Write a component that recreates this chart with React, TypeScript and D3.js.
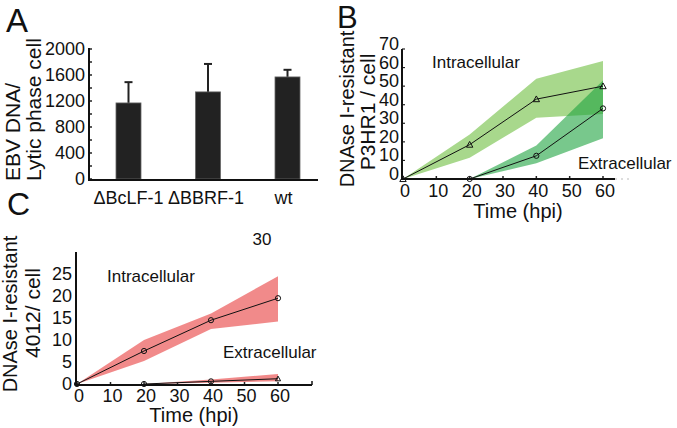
import React from "react";
import * as d3 from "d3";

// ---------- Panel A data ----------
const barCategories = ["ΔBcLF-1", "ΔBBRF-1", "wt"];
const barValues = [1170, 1340, 1570];
const barErrorTops = [1490, 1770, 1680];
const barYTicks = [0, 400, 800, 1200, 1600, 2000];
const barMinorTicks = [0, 200, 400, 600, 800, 1000, 1200, 1400, 1600, 1800, 2000];

// ---------- Panel B data ----------
const timeTicks = [0, 10, 20, 30, 40, 50, 60];
const bIntraTime = [0, 20, 40, 60];
const bIntra = [0, 18.5, 43, 50];
const bIntraUpper = [0, 24, 54, 63.5];
const bIntraLower = [0, 11.5, 33, 35];
const bExtTime = [20, 40, 60];
const bExt = [0, 12.5, 38];
const bExtUpper = [0, 18, 53];
const bExtLower = [0, 8.5, 22];
const bYTicks = [0, 10, 20, 30, 40, 50, 60, 70];

// ---------- Panel C data ----------
const cIntraTime = [0, 20, 40, 60];
const cIntra = [0, 7.5, 14.5, 19.5];
const cIntraUpper = [0, 10, 16, 24.5];
const cIntraLower = [0, 5.2, 12.5, 14.2];
const cExtTime = [20, 40, 60];
const cExt = [0, 0.6, 1.2];
const cExtUpper = [0, 1.0, 2.3];
const cExtLower = [0, 0.3, 0.6];
const cYTicks = [0, 5, 10, 15, 20, 25];

const FONT = "'Liberation Sans', Arial, sans-serif";

type Pt = { t: number; v: number; lo: number; hi: number };
const zipSeries = (t: number[], v: number[], lo: number[], hi: number[]): Pt[] =>
  t.map((tt, i) => ({ t: tt, v: v[i], lo: lo[i], hi: hi[i] }));

function Triangle({ x, y, s = 3.2 }: { x: number; y: number; s?: number }) {
  return (
    <path
      d={`M${x},${y - s}L${x + s},${y + s * 0.8}L${x - s},${y + s * 0.8}Z`}
      fill="none"
      stroke="#111"
      strokeWidth={1}
    />
  );
}
function Circle({ x, y }: { x: number; y: number }) {
  return <circle cx={x} cy={y} r={2.6} fill="none" stroke="#111" strokeWidth={1} />;
}

export default function App() {
  // ===== Panel A =====
  const aY = d3.scaleLinear().domain([0, 2000]).range([179, 49]);
  const aX = d3.scalePoint<string>().domain(barCategories).range([128.5, 287.5]);
  const barW = 25;

  // ===== Panel B =====
  const bX = d3.scaleLinear().domain([0, 60]).range([403, 603]);
  const bY = d3.scaleLinear().domain([0, 70]).range([179, 49]);
  const bIntraPts = zipSeries(bIntraTime, bIntra, bIntraLower, bIntraUpper);
  const bExtPts = zipSeries(bExtTime, bExt, bExtLower, bExtUpper);
  const bArea = d3
    .area<Pt>()
    .x((d) => bX(d.t))
    .y0((d) => bY(d.lo))
    .y1((d) => bY(d.hi));
  const bLine = d3
    .line<Pt>()
    .x((d) => bX(d.t))
    .y((d) => bY(d.v));

  // ===== Panel C =====
  const cX = d3.scaleLinear().domain([0, 60]).range([77, 278]);
  const cY = d3.scaleLinear().domain([0, 30]).range([384, 252]);
  const cIntraPts = zipSeries(cIntraTime, cIntra, cIntraLower, cIntraUpper);
  const cExtPts = zipSeries(cExtTime, cExt, cExtLower, cExtUpper);
  const cArea = d3
    .area<Pt>()
    .x((d) => cX(d.t))
    .y0((d) => cY(d.lo))
    .y1((d) => cY(d.hi));
  const cLine = d3
    .line<Pt>()
    .x((d) => cX(d.t))
    .y((d) => cY(d.v));

  return (
    <svg
      width={677}
      height={428}
      style={{ position: "absolute", left: 0, top: 0, background: "#fff" }}
      fontFamily={FONT}
    >
      <rect width={677} height={428} fill="#fff" />

      {/* ================= Panel A ================= */}
      <text x={6} y={32} fontSize={33} fill="#111">A</text>
      <text transform="translate(20,181) rotate(-90)" fontSize={21} fill="#111">EBV DNA/</text>
      <text transform="translate(41,181) rotate(-90)" fontSize={21} fill="#111">Lytic phase cell</text>
      {barCategories.map((c, i) => {
        const cx = aX(c) as number;
        return (
          <g key={c}>
            <line x1={cx} x2={cx} y1={aY(barValues[i])} y2={aY(barErrorTops[i])} stroke="#222" strokeWidth={2} />
            <line x1={cx - 4} x2={cx + 4} y1={aY(barErrorTops[i])} y2={aY(barErrorTops[i])} stroke="#222" strokeWidth={2} />
            <rect
              x={cx - barW / 2}
              y={aY(barValues[i])}
              width={barW}
              height={aY(0) - aY(barValues[i])}
              fill="#222"
              stroke="#666"
              strokeWidth={0.8}
            />
            <text x={cx - 2 * i} y={204} fontSize={18} textAnchor="middle" fill="#111">{c}</text>
          </g>
        );
      })}
      {barMinorTicks.map((t) => (
        <line key={t} x1={89} x2={92} y1={aY(t)} y2={aY(t)} stroke="#222" strokeWidth={1.5} />
      ))}
      {barYTicks.map((t) => (
        <text key={t} x={85} y={aY(t) + 6} fontSize={18} textAnchor="end" fill="#111">{t}</text>
      ))}
      <line x1={89} x2={89} y1={aY(2000) - 1} y2={180} stroke="#111" strokeWidth={2} />
      <line x1={88} x2={318} y1={180} y2={180} stroke="#111" strokeWidth={2} />

      {/* ================= Panel B ================= */}
      <text x={337} y={28} fontSize={31} fill="#111">B</text>
      <text transform="translate(354,109) rotate(-90)" fontSize={20} textAnchor="middle" fill="#111">DNAse I-resistant</text>
      <text transform="translate(375,112) rotate(-90)" fontSize={21} textAnchor="middle" fill="#111">P3HR1 / cell</text>

      <path d={bArea(bIntraPts) || ""} fill="rgb(168,216,140)" />
      <path d={bArea(bExtPts) || ""} fill="rgb(30,163,63)" fillOpacity={0.6} />
      <path d={bLine(bIntraPts) || ""} fill="none" stroke="#111" strokeWidth={1} />
      <path d={bLine(bExtPts) || ""} fill="none" stroke="#111" strokeWidth={1} />
      {bIntraPts.map((d) => (
        <Triangle key={"bi" + d.t} x={bX(d.t)} y={bY(d.v)} />
      ))}
      {bExtPts.map((d) => (
        <Circle key={"be" + d.t} x={bX(d.t)} y={bY(d.v)} />
      ))}

      {bYTicks.map((t) => (
        <g key={t}>
          <line x1={402} x2={405} y1={bY(t)} y2={bY(t)} stroke="#222" strokeWidth={1.2} />
          <text x={399} y={bY(t) + 1} fontSize={18} textAnchor="end" fill="#111">{t}</text>
        </g>
      ))}
      {timeTicks.map((t) => (
        <g key={t}>
          <line x1={bX(t)} x2={bX(t)} y1={179} y2={176} stroke="#222" strokeWidth={1.5} />
          <text x={bX(t) + 2} y={197} fontSize={18} textAnchor="middle" fill="#111">{t}</text>
        </g>
      ))}
      <line x1={402} x2={402} y1={bY(70)} y2={180} stroke="#111" strokeWidth={2} />
      <line x1={401} x2={615} y1={179} y2={179} stroke="#111" strokeWidth={2} />
      <line x1={615} x2={633} y1={179} y2={179} stroke="#bbb" strokeWidth={1} strokeDasharray="2,4" />
      <text x={432} y={68} fontSize={17} fill="#111">Intracellular</text>
      <text x={578} y={169} fontSize={17} fill="#111">Extracellular</text>
      <text x={518} y={218} fontSize={20} textAnchor="middle" fill="#111">Time (hpi)</text>

      {/* ================= Panel C ================= */}
      <text x={7} y={215} fontSize={32} fill="#111">C</text>
      <text transform="translate(17,314) rotate(-90)" fontSize={20} textAnchor="middle" fill="#111">DNAse I-resistant</text>
      <text transform="translate(40,313) rotate(-90)" fontSize={21} textAnchor="middle" fill="#111">4012/ cell</text>
      <text x={262} y={245} fontSize={17} textAnchor="middle" fill="#111">30</text>

      <path d={cArea(cIntraPts) || ""} fill="rgb(240,128,128)" fillOpacity={0.92} />
      <path d={cArea(cExtPts) || ""} fill="rgb(240,128,128)" fillOpacity={0.92} />
      <path d={cLine(cIntraPts) || ""} fill="none" stroke="#111" strokeWidth={1} />
      <path d={cLine(cExtPts) || ""} fill="none" stroke="#111" strokeWidth={1} />
      {cIntraPts.map((d) => (
        <Circle key={"ci" + d.t} x={cX(d.t)} y={cY(d.v)} />
      ))}
      {cExtPts.map((d, i) =>
        i === cExtPts.length - 1 ? (
          <Triangle key={"ce" + d.t} x={cX(d.t)} y={cY(d.v)} s={2.6} />
        ) : (
          <Circle key={"ce" + d.t} x={cX(d.t)} y={cY(d.v)} />
        )
      )}

      {cYTicks.map((t) => (
        <text key={t} x={72} y={cY(t) + 6} fontSize={18} textAnchor="end" fill="#111">{t}</text>
      ))}
      {timeTicks.map((t) => (
        <g key={t}>
          <line x1={cX(t)} x2={cX(t)} y1={385} y2={382} stroke="#222" strokeWidth={1.5} />
          <text x={cX(t) + 2} y={402} fontSize={18} textAnchor="middle" fill="#111">{t}</text>
        </g>
      ))}
      <line x1={76} x2={76} y1={cY(30)} y2={386} stroke="#111" strokeWidth={2} />
      <line x1={75} x2={312} y1={385} y2={385} stroke="#111" strokeWidth={2} />
      <line x1={312} x2={312} y1={385} y2={381} stroke="#111" strokeWidth={1.5} />
      <text x={107} y={282} fontSize={17} fill="#111">Intracellular</text>
      <text x={223} y={358} fontSize={17} fill="#111">Extracellular</text>
      <text x={194} y={422} fontSize={20} textAnchor="middle" fill="#111">Time (hpi)</text>
    </svg>
  );
}
